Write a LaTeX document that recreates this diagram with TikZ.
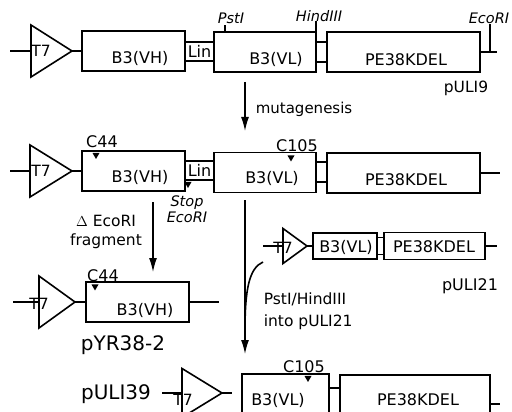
\documentclass[tikz,border=0pt]{standalone}
\usepackage{fontspec}
\setmainfont{DejaVu Sans}
\usetikzlibrary{arrows.meta, shapes.geometric}

\begin{document}
\begin{tikzpicture}[
  x=1pt, y=-1pt,
  line width=1.6pt,
  gene/.style={draw, rectangle, inner sep=0pt, outer sep=0pt, minimum height=40pt},
  joint/.style={draw, rectangle, inner sep=0pt, outer sep=0pt, font=\fontsize{16}{18}\selectfont},
  prom/.style={draw, isosceles triangle, isosceles triangle stretches, inner sep=0pt, outer sep=0pt, anchor=apex},
  site/.style={fill, isosceles triangle, isosceles triangle stretches, shape border rotate=-90, inner sep=0pt, outer sep=0pt, minimum width=7pt, minimum height=6pt},
  txt/.style={inner sep=0pt, font=\fontsize{16}{18}\selectfont},
  small/.style={inner sep=0pt, font=\fontsize{15.5}{17}\selectfont},
  enz/.style={inner sep=0pt, font=\fontsize{14.5}{16}\selectfont\itshape},
  big/.style={inner sep=0pt, font=\fontsize{20}{22}\selectfont},
  op/.style={-{Latex[length=14pt, width=8pt]}, line width=1.4pt}
]
  \useasboundingbox (0,0) rectangle (512,412);
  \clip (0,0) rectangle (512,412);

  % pULI9
  \coordinate (lead1) at (10,51);
  \node[prom, minimum width=52pt, minimum height=41pt] (t7a) at (72,51) {};
  \node[small] (t7atxt) at (41,51) {T7};
  \node[gene, minimum width=103pt] (vh1) at (133.5,51) {};
  \node[txt] (vh1txt) at (140,58) {B3(VH)};
  \node[joint, minimum width=29pt, minimum height=19pt] (lin1) at (199.5,51.5) {Lin};
  \node[gene, minimum width=102pt] (vl1) at (265,52) {};
  \node[txt] (vl1txt) at (276,59) {B3(VL)};
  \node[joint, minimum width=11pt, minimum height=20pt] (lk1) at (321.5,52) {};
  \node[gene, minimum width=153pt] (pe1) at (403.5,52) {};
  \node[txt] (pe1txt) at (406,60) {PE38KDEL};
  \coordinate (tail1) at (497,52);
  \coordinate (eco1) at (490,52);
  \coordinate (eco1top) at (490,24);
  \coordinate (pst1) at (225,25);
  \coordinate (hind1) at (316,21);
  \node[enz] (pstlab) at (231,18) {PstI};
  \node[enz] (hindlab) at (319,16) {HindIII};
  \node[enz] (ecolab) at (489,18) {EcoRI};
  \node[small] (puli9) at (466,88) {pULI9};

  \draw (lead1) -- (t7a.west);
  \draw (t7a.apex) -- (vh1.west);
  \draw (pe1.east) -- (tail1);
  \draw (eco1) -- (eco1top);
  \draw (vl1.north -| pst1) -- (pst1);
  \draw (vl1.north east) -- (hind1);

  % mutagenesis
  \coordinate (mut1) at (245,82);
  \coordinate (mut2) at (245,131);
  \draw[op] (mut1) -- (mut2);
  \node[txt, anchor=west, font=\fontsize{15}{18}\selectfont] (mutlab) at (255,109) {mutagenesis};

  % mutated construct
  \coordinate (lead2) at (10,171);
  \node[prom, minimum width=52pt, minimum height=42pt] (t7b) at (72,171) {};
  \node[small] (t7btxt) at (41,171) {T7};
  \node[gene, minimum width=103pt] (vh2) at (133.5,171) {};
  \node[txt] (vh2txt) at (140,177.5) {B3(VH)};
  \node[joint, minimum width=29pt, minimum height=19pt] (lin2) at (199.5,170.5) {Lin};
  \node[gene, minimum width=102pt] (vl2) at (265,172.5) {};
  \node[txt] (vl2txt) at (272,178) {B3(VL)};
  \node[joint, minimum width=11pt, minimum height=20pt] (lk2) at (321.5,172) {};
  \node[gene, minimum width=153pt] (pe2) at (403.5,173) {};
  \node[txt] (pe2txt) at (406,179.5) {PE38KDEL};
  \coordinate (tail2) at (500,173);
  \node[site] (c44b) at (96,155) {};
  \node[txt] (c44blab) at (102,142) {C44};
  \node[site] (c105b) at (291,157.5) {};
  \node[txt] (c105blab) at (297,146) {C105};
  \node[site] (stopb) at (188,184) {};
  \node[enz, align=center, font=\fontsize{14.5}{16.5}\selectfont\itshape] (stoplab) at (187,209) {Stop\\EcoRI};

  \draw (lead2) -- (t7b.west);
  \draw (t7b.apex) -- (vh2.west);
  \draw (pe2.east) -- (tail2);

  % arrows down
  \coordinate (del1) at (153,202);
  \coordinate (del2) at (153,272);
  \draw[op] (del1) -- (del2);
  \node[txt, align=center, font=\fontsize{15.5}{19}\selectfont] (dellab) at (106,232) {$\Delta$ EcoRI\\fragment};
  \coordinate (sub1) at (245,200);
  \coordinate (sub2) at (245,354);
  \draw[op] (sub1) -- (sub2);

  % pYR38-2
  \coordinate (lead3) at (13,302);
  \node[prom, minimum width=52pt, minimum height=36pt] (t7c) at (75,302) {};
  \node[small] (t7ctxt) at (39,304) {T7};
  \node[gene, minimum width=103pt] (vh3) at (137.5,302) {};
  \node[txt] (vh3txt) at (145,310) {B3(VH)};
  \coordinate (tail3) at (219,302);
  \node[site] (c44c) at (95,286.5) {};
  \node[txt] (c44clab) at (103,276) {C44};
  \node[big] (pyr) at (123,345) {pYR38-2};

  \draw (lead3) -- (t7c.west);
  \draw (t7c.apex) -- (vh3.west);
  \draw (vh3.east) -- (tail3);

  % pULI21
  \coordinate (lead5) at (263,246);
  \node[prom, minimum width=35pt, minimum height=24pt] (t7d) at (307,246) {};
  \node[small] (t7dtxt) at (283,248) {T7};
  \node[gene, minimum width=64pt, minimum height=26pt] (vl5) at (345,246) {};
  \node[txt] (vl5txt) at (346,247) {B3(VL)};
  \node[joint, minimum width=7pt, minimum height=17pt] (lk5) at (380.5,246) {};
  \node[gene, minimum width=101pt, minimum height=27pt] (pe5) at (434.5,246) {};
  \node[txt] (pe5txt) at (434,247) {PE38KDEL};
  \coordinate (tail5) at (497,246);
  \node[txt] (puli21) at (470,286) {pULI21};
  \node[txt, anchor=west, align=left, font=\fontsize{15.5}{22}\selectfont] (sublab) at (263,311) {PstI/HindIII\\into pULI21};
  \coordinate (curve1) at (245,330);
  \coordinate (curve2) at (263,262);

  \draw (lead5) -- (t7d.west);
  \draw (t7d.apex) -- (vl5.west);
  \draw (pe5.east) -- (tail5);
  \draw (curve1) .. controls (245,290) and (249,268) .. (curve2);

  % pULI39
  \node[big] (puli39) at (116,394) {pULI39};
  \coordinate (lead4) at (162,393);
  \node[prom, minimum width=49pt, minimum height=40pt] (t7e) at (222,393) {};
  \node[small] (t7etxt) at (183,400) {T7};
  \coordinate (t7eend) at (232,393);
  \node[gene, minimum width=87pt, minimum height=60pt] (vl4) at (285.5,404) {};
  \node[txt] (vl4txt) at (278,400) {B3(VL)};
  \node[joint, minimum width=11pt, minimum height=32pt] (lk4) at (334.5,404) {};
  \node[gene, minimum width=150pt, minimum height=58pt] (pe4) at (415,404) {};
  \node[txt] (pe4txt) at (418,400) {PE38KDEL};
  \coordinate (tail4) at (500,404);
  \node[site] (c105e) at (308,378) {};
  \node[txt] (c105elab) at (304,367) {C105};

  \draw (lead4) -- (t7e.west);
  \draw (t7e.apex) -- (t7eend);
  \draw (pe4.east) -- (tail4);
\end{tikzpicture}
\end{document}
